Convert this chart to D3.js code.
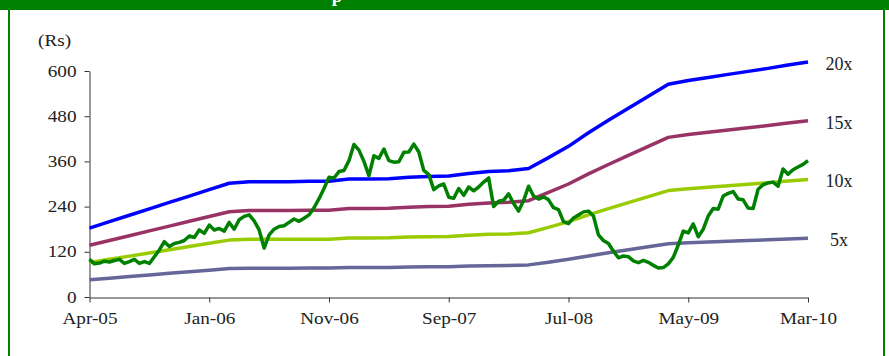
<!DOCTYPE html>
<html>
<head>
<meta charset="utf-8">
<script src="https://cdnjs.cloudflare.com/ajax/libs/d3/7.8.5/d3.min.js"></script>
<style>
body { margin: 0; background: #fff; }
svg { display: block; }
</style>
</head>
<body>
<script>
// etiquetas del eje x, una cada 24 puntos
var xLabels = ["Apr-05", "Jan-06", "Nov-06", "Sep-07", "Jul-08", "May-09", "Mar-10"]
var yTicks = [0, 120, 240, 360, 480, 600]

// bandas P/E: multiplo x EPS
var multiples = [20, 15, 10, 5]
var bandNames = ["20x", "15x", "10x", "5x"]
var bandColors = ["#0000ff", "#993366", "#99cc00", "#666699"]

// EPS a un año, un valor cada 4 puntos
var eps = [9.15, 10.0, 10.85, 11.7, 12.55, 13.4, 14.25, 15.1, 15.3, 15.3, 15.3, 15.35, 15.35,
           15.65, 15.65, 15.7, 15.9, 16.0, 16.05, 16.4, 16.65, 16.75, 17.05, 18.5, 20.0, 21.8,
           23.45, 25.05, 26.65, 28.25, 28.75, 29.15, 29.55, 29.95, 30.35, 30.8, 31.2]

// precio de la accion (Rs), 145 puntos
var price = [100, 88, 90, 95, 93, 97, 100, 89, 94, 100, 89, 94, 89,
             107, 125, 147, 134, 142, 145, 150, 162, 158, 178, 169, 191,
             178, 182, 175, 198, 180, 205, 214, 218, 202, 178, 130, 165,
             180, 187, 189, 198, 207, 201, 209, 218, 237, 261, 288, 318,
             316, 333, 336, 362, 405, 390, 360, 322, 375, 368, 393, 362,
             358, 359, 384, 385, 406, 385, 336, 325, 285, 295, 300, 265,
             262, 288, 270, 292, 282, 292, 305, 316, 240, 254, 257, 274,
             248, 228, 256, 294, 268, 260, 266, 258, 237, 232, 200, 195,
             210, 218, 226, 228, 215, 165, 150, 142, 122, 104, 109, 107,
             96, 91, 97, 92, 84, 77, 78, 88, 105, 138, 175, 170,
             194, 160, 180, 215, 235, 233, 268, 275, 280, 260, 258, 236,
             235, 286, 298, 303, 305, 294, 340, 326, 338, 345, 352, 362]

var W = 889, H = 356
var sx = 1.2        // las letras del original estan estiradas en horizontal
var font = "'Liberation Serif', 'Times New Roman', serif"

var svg = d3.select("body").append("svg")
    .attr("width", W)
    .attr("height", H)

// marco verde y barra del titulo
svg.append("rect")
    .attr("x", 9).attr("y", 0)
    .attr("width", 875).attr("height", H + 20)
    .attr("fill", "none")
    .attr("stroke", "#008000")
    .attr("stroke-width", 2)

svg.append("rect")
    .attr("x", 0).attr("y", 0)
    .attr("width", W).attr("height", 10)
    .attr("fill", "#008000")

svg.append("text")           // solo se ve el final del titulo
    .attr("x", 337).attr("y", 2)
    .attr("text-anchor", "middle")
    .style("font-family", font)
    .style("font-weight", "bold")
    .style("font-size", "19px")
    .attr("fill", "#fff")
    .text("p")

var x = d3.scaleLinear()
    .domain([0, price.length - 1])
    .range([89.5, 808])

var y = d3.scaleLinear()
    .domain([0, 600])
    .range([297, 71])

function stretch(sel) {
    sel.each(function() {
        var t = d3.select(this)
        var x0 = +t.attr("x") || 0
        t.attr("x", x0 / sx).attr("transform", "scale(" + sx + ",1)")
    })
}

var yAxis = svg.append("g")
    .attr("transform", "translate(89.5,0)")
    .call(d3.axisLeft(y).tickValues(yTicks).tickSize(5).tickSizeOuter(0).tickPadding(8))

var xAxis = svg.append("g")
    .attr("transform", "translate(0,297.5)")
    .call(d3.axisBottom(x)
        .tickValues(d3.range(0, price.length, 24))
        .tickFormat((d, i) => xLabels[i])
        .tickSize(5).tickSizeOuter(0).tickPadding(10))

svg.selectAll(".domain, .tick line").attr("stroke", "#333")
svg.selectAll(".tick text")
    .style("font-family", font)
    .style("font-size", "16px")
    .attr("fill", "#222")
    .call(stretch)

svg.append("text")
    .attr("x", 38 / sx).attr("y", 46)
    .attr("transform", "scale(" + sx + ",1)")
    .style("font-family", font)
    .style("font-size", "16px")
    .attr("fill", "#222")
    .text("(Rs)")

var line = d3.line()
    .x(d => x(d.i))
    .y(d => y(d.v))

// bandas
multiples.forEach(function(m, k) {
    var band = eps.map((e, j) => ({i: j * 4, v: e * m}))
    svg.append("path")
        .datum(band)
        .attr("d", line)
        .attr("fill", "none")
        .attr("stroke", bandColors[k])
        .attr("stroke-width", 3.5)
        .attr("stroke-linejoin", "round")

    var last = band[band.length - 1]
    svg.append("text")
        .attr("x", 839).attr("y", y(last.v) + 8)
        .attr("text-anchor", "middle")
        .style("font-family", font)
        .style("font-size", "18px")
        .attr("fill", "#222")
        .text(bandNames[k])
})

// precio
svg.append("path")
    .datum(price.map((v, i) => ({i: i, v: v})))
    .attr("d", line)
    .attr("fill", "none")
    .attr("stroke", "#008000")
    .attr("stroke-width", 3.5)
    .attr("stroke-linejoin", "round")
</script>
</body>
</html>
